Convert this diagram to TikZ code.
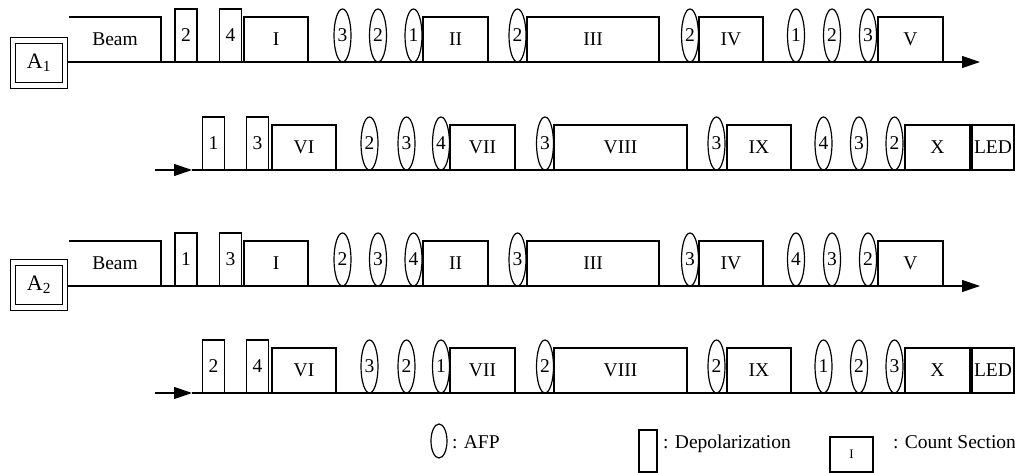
\documentclass[tikz,border=0pt]{standalone}
\usepackage{fontspec}
\setmainfont{Liberation Serif}
\usetikzlibrary{shapes.geometric,arrows.meta}
\newcommand\DEPn[4]{\node[depol] (#1) at (#2,#3) {#4};}
\newcommand\AFPn[4]{\node[afp] (#1) at (#2,#3) {#4};}
\newcommand\CNTn[5]{\node[cnt,minimum width=#4] (#1) at (#2,#3) {#5};}
\begin{document}
\begin{tikzpicture}[x=1pt,y=-1pt,line width=1.2pt,
  every node/.style={font=\fontsize{19.5}{22}\selectfont,inner sep=0pt,outer sep=0pt},
  afp/.style={draw,ellipse,minimum width=17pt,minimum height=53pt,anchor=south},
  depol/.style={draw,rectangle,minimum width=22pt,minimum height=53pt,anchor=south west},
  cnt/.style={draw,rectangle,minimum height=45pt,anchor=south west},
  beamsec/.style={rectangle,minimum width=92pt,minimum height=45pt,anchor=south west},
  labelbox/.style={draw,double,double distance=4.5pt,minimum width=52pt,minimum height=45pt,
    font=\fontsize{22}{24}\selectfont},
  tip/.style={-{Triangle[length=18pt,width=12pt]}},
  legtext/.style={anchor=base west}]
\useasboundingbox (0,0) rectangle (1015,473);

% ---------- Row 1 (A1, first half) ----------
\node[labelbox] (A1) at (39,63) {A\textsubscript{1}};
\node[beamsec] (b1) at (69,62) {Beam};
\DEPn{p1a}{175}{62}{2}
\DEPn{p1b}{219.5}{62}{4}
\CNTn{c1a}{244}{62}{64pt}{I}
\AFPn{f1a}{342.5}{62}{3}
\AFPn{f1b}{378}{62}{2}
\AFPn{f1c}{413.5}{62}{1}
\CNTn{c1b}{423}{62}{65pt}{II}
\AFPn{f1d}{517.5}{62}{2}
\CNTn{c1c}{527}{62}{132pt}{III}
\AFPn{f1e}{690}{62}{2}
\CNTn{c1d}{699}{62}{64pt}{IV}
\AFPn{f1f}{796}{62}{1}
\AFPn{f1g}{832}{62}{2}
\AFPn{f1h}{868}{62}{3}
\CNTn{c1e}{878}{62}{65pt}{V}
\coordinate (r1end) at (980,62);
\draw (b1.north west) -- (b1.north east) -- (b1.south east);
\draw[tip] ([xshift=3.2pt]A1.east |- b1.south west) -- (r1end);

% ---------- Row 2 (A1, second half) ----------
\coordinate (r2s) at (155,170);
\coordinate (r2a) at (192,170);
\DEPn{p2a}{202.5}{170}{1}
\DEPn{p2b}{246.5}{170}{3}
\CNTn{c2a}{272}{170}{64pt}{VI}
\AFPn{f2a}{369.5}{170}{2}
\AFPn{f2b}{406.5}{170}{3}
\AFPn{f2c}{441}{170}{4}
\CNTn{c2b}{450}{170}{65pt}{VII}
\AFPn{f2d}{545}{170}{3}
\CNTn{c2c}{554}{170}{133pt}{VIII}
\AFPn{f2e}{716.5}{170}{3}
\CNTn{c2d}{727}{170}{64pt}{IX}
\AFPn{f2f}{823.5}{170}{4}
\AFPn{f2g}{859}{170}{3}
\AFPn{f2h}{894.5}{170}{2}
\CNTn{c2e}{905}{170}{65pt}{X}
\CNTn{c2f}{972}{170}{42pt}{LED}
\draw[tip] (r2s) -- (r2a);
\draw (r2a) -- (c2f.south east);

% ---------- Row 3 (A2, first half) ----------
\node[labelbox] (A2) at (39,285) {A\textsubscript{2}};
\node[beamsec] (b3) at (69,286) {Beam};
\DEPn{p3a}{175}{286}{1}
\DEPn{p3b}{219.5}{286}{3}
\CNTn{c3a}{244}{286}{64pt}{I}
\AFPn{f3a}{342.5}{286}{2}
\AFPn{f3b}{378}{286}{3}
\AFPn{f3c}{413.5}{286}{4}
\CNTn{c3b}{423}{286}{65pt}{II}
\AFPn{f3d}{517.5}{286}{3}
\CNTn{c3c}{527}{286}{132pt}{III}
\AFPn{f3e}{690}{286}{3}
\CNTn{c3d}{699}{286}{64pt}{IV}
\AFPn{f3f}{796}{286}{4}
\AFPn{f3g}{832}{286}{3}
\AFPn{f3h}{868}{286}{2}
\CNTn{c3e}{878}{286}{65pt}{V}
\coordinate (r3end) at (980,286);
\draw (b3.north west) -- (b3.north east) -- (b3.south east);
\draw[tip] ([xshift=3.2pt]A2.east |- b3.south west) -- (r3end);

% ---------- Row 4 (A2, second half) ----------
\coordinate (r4s) at (155,393);
\coordinate (r4a) at (192,393);
\DEPn{p4a}{202.5}{393}{2}
\DEPn{p4b}{246.5}{393}{4}
\CNTn{c4a}{272}{393}{64pt}{VI}
\AFPn{f4a}{369.5}{393}{3}
\AFPn{f4b}{406.5}{393}{2}
\AFPn{f4c}{441}{393}{1}
\CNTn{c4b}{450}{393}{65pt}{VII}
\AFPn{f4d}{545}{393}{2}
\CNTn{c4c}{554}{393}{133pt}{VIII}
\AFPn{f4e}{716.5}{393}{2}
\CNTn{c4d}{727}{393}{64pt}{IX}
\AFPn{f4f}{823.5}{393}{1}
\AFPn{f4g}{859}{393}{2}
\AFPn{f4h}{894.5}{393}{3}
\CNTn{c4e}{905}{393}{65pt}{X}
\CNTn{c4f}{972}{393}{42pt}{LED}
\draw[tip] (r4s) -- (r4a);
\draw (r4a) -- (c4f.south east);

% ---------- Legend ----------
\node[draw,ellipse,minimum width=16pt,minimum height=34pt] (legE) at (439,441) {};
\node[legtext] (legEt) at (452,448) {: AFP};
\node[draw,rectangle,minimum width=18pt,minimum height=42pt] (legD) at (648,451) {};
\node[legtext] (legDt) at (663,448) {: Depolarization};
\node[draw,rectangle,minimum width=43pt,minimum height=35pt,font=\fontsize{13}{15}\selectfont] (legC) at (851.5,454.5) {I};
\node[legtext] (legCt) at (893,448) {: Count Section};
\end{tikzpicture}
\end{document}
